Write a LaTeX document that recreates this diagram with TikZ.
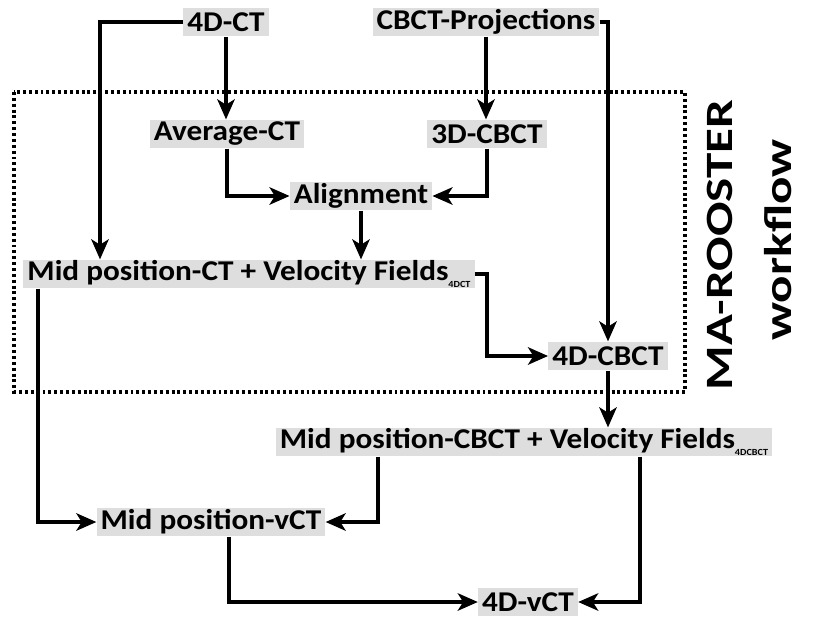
\documentclass[tikz,border=0pt]{standalone}
\usepackage{fontspec}
\setmainfont{Carlito}
\newfontfamily\boxfont[FakeStretch=1.09]{Carlito}
\newfontfamily\sidefont[FakeStretch=1.32]{Carlito}
\usepackage{tikz}
\usetikzlibrary{arrows.meta,calc}

\newcommand{\sub}[1]{\raisebox{-0.5ex}{\fontsize{7}{8}\selectfont #1}}

\begin{document}
\begin{tikzpicture}[
  x=0.75pt, y=-0.75pt,
  font=\boxfont\fontsize{21.5}{24}\selectfont\bfseries,
  blk/.style={fill=black!13, inner xsep=3pt, inner ysep=0.3pt, minimum height=21.5pt},
  arr/.style={-{Stealth[length=15pt,width=13pt,inset=4pt]}, line width=3.6pt, line join=miter},
  frame/.style={line width=3pt, dash pattern=on 2.2pt off 2.2pt},
  side/.style={font=\sidefont\fontsize{29}{31}\selectfont\bfseries, rotate=90},
]
\useasboundingbox[fill=white] (0,0) rectangle (815,618);

% nodes
\node[blk] (ct4)     at (226,22)  {4D-CT};
\node[blk] (proj)    at (486,22)  {CBCT-Projections};
\node[blk] (avg)     at (227,134) {Average-CT};
\node[blk] (cbct3)   at (487,134) {3D-CBCT};
\node[blk] (align)   at (361,196) {Alignment};
\node[blk] (midct)   at (249,274) {Mid position-CT + Velocity Fields\sub{4DCT}};
\node[blk] (cbct4)   at (608,356) {4D-CBCT};
\node[blk] (midcbct) at (524,442) {Mid position-CBCT + Velocity Fields\sub{4DCBCT}};
\node[blk] (midvct)  at (211,522) {Mid position-vCT};
\node[blk] (vct4)    at (528,602) {4D-vCT};

% workflow frame and title
\draw[frame] (14,92) rectangle (685,392);
\node[side] (ttl)  at (720,245) {MA-ROOSTER};
\node[side] (ttl2) at (778,240) {workflow};

% helper columns
\coordinate (xl) at (100,0);
\coordinate (xm) at (38,0);
\coordinate (xr) at (487,0);
\coordinate (xa) at (378,0);
\coordinate (xb) at (640,0);
\coordinate (xc) at (229,0);

% connectors
\draw[arr] (ct4.south) -- (ct4.south |- avg.north);
\draw[arr] (proj.south) -- (proj.south |- cbct3.north);
\draw[arr] (avg.south) |- (align.west);
\draw[arr] (cbct3.south) |- (align.east);
\draw[arr] (align.south) -- (align.south |- midct.north);
\draw[arr] (ct4.west) -| (xl |- midct.north);
\draw[arr] (proj.east) -| (cbct4.north);
\draw[arr] (midct.east) -| (xr |- cbct4.west) -- (cbct4.west);
\draw[arr] (cbct4.south) -- (cbct4.south |- midcbct.north);
\draw[arr] (xm |- midct.south) |- (midvct.west);
\draw[arr] (xa |- midcbct.south) |- (midvct.east);
\draw[arr] (xb |- midcbct.south) |- (vct4.east);
\draw[arr] (xc |- midvct.south) |- (vct4.west);
\end{tikzpicture}
\end{document}
